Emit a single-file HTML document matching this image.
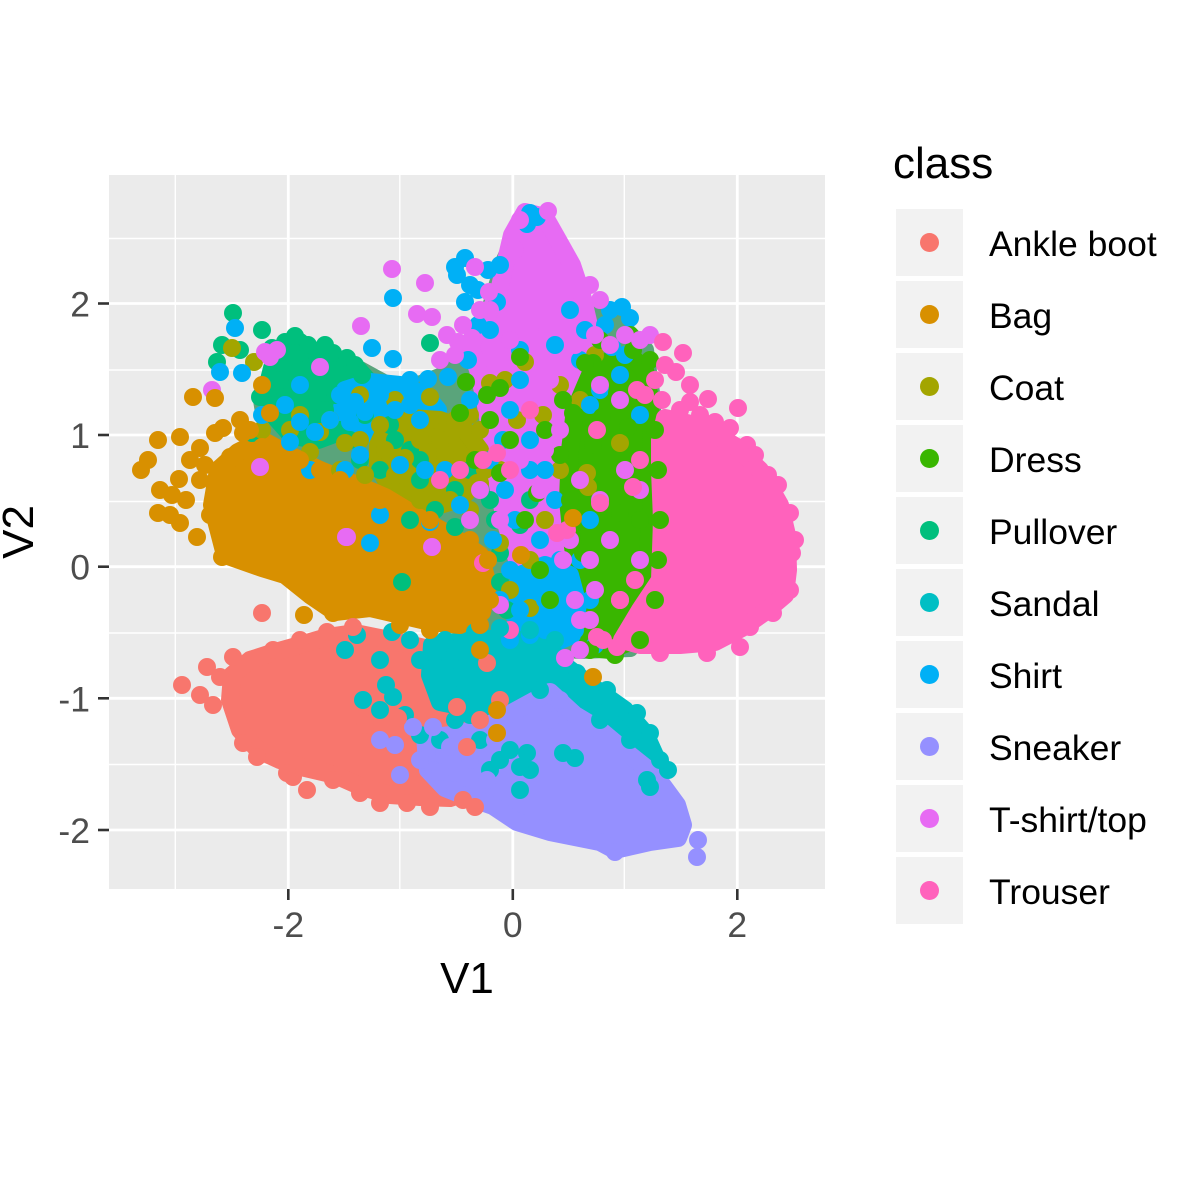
<!DOCTYPE html>
<html><head><meta charset="utf-8"><style>
html,body{margin:0;padding:0;background:#fff;}
svg{display:block;font-family:"Liberation Sans",Arial,sans-serif;}
.pg{stroke-width:18;stroke-linejoin:round;}
</style></head><body>
<svg width="1181" height="1181" viewBox="0 0 1181 1181" xmlns="http://www.w3.org/2000/svg">
<rect width="1181" height="1181" fill="#fff"/>
<!-- panel -->
<rect x="109" y="175" width="716" height="714" fill="#EBEBEB"/>
<g stroke="#fff" stroke-width="1.4">
<line x1="175.3" y1="175" x2="175.3" y2="889"/><line x1="399.8" y1="175" x2="399.8" y2="889"/><line x1="624.3" y1="175" x2="624.3" y2="889"/>
<line x1="109" y1="238.5" x2="825" y2="238.5"/><line x1="109" y1="370" x2="825" y2="370"/><line x1="109" y1="501.5" x2="825" y2="501.5"/><line x1="109" y1="633" x2="825" y2="633"/><line x1="109" y1="764.5" x2="825" y2="764.5"/>
</g>
<g stroke="#fff" stroke-width="2.8">
<line x1="288.3" y1="175" x2="288.3" y2="889"/><line x1="512.8" y1="175" x2="512.8" y2="889"/><line x1="737.3" y1="175" x2="737.3" y2="889"/>
<line x1="109" y1="303.5" x2="825" y2="303.5"/><line x1="109" y1="435" x2="825" y2="435"/><line x1="109" y1="566.7" x2="825" y2="566.7"/><line x1="109" y1="698.3" x2="825" y2="698.3"/><line x1="109" y1="830" x2="825" y2="830"/>
</g>

<!-- base polygons -->
<polygon class="pg" fill="#5aa47b" stroke="#5aa47b" points="262,400 280,365 320,358 360,370 400,392 445,375 470,345 490,310 505,260 525,215 545,218 565,262 585,305 620,325 645,350 652,400 652,620 630,648 580,650 520,645 490,625 470,560 440,540 380,520 320,490 270,450"/>
<polygon class="pg" fill="#E76BF3" stroke="#E76BF3" points="525,212 545,217 558,240 572,265 582,295 590,330 595,370 590,420 575,470 565,520 560,580 560,640 545,650 530,620 520,570 505,520 495,470 490,430 485,400 478,370 470,345 485,320 498,295 505,265 512,235"/>
<polygon class="pg" fill="#00BF7D" stroke="#00BF7D" points="272,368 295,352 330,356 355,366 372,385 368,410 345,430 318,440 292,436 276,418 266,392"/>
<polygon class="pg" fill="#00B0F6" stroke="#00B0F6" points="345,390 370,382 400,385 425,395 438,410 430,428 405,435 375,435 352,425 342,408"/>
<polygon class="pg" fill="#A3A500" stroke="#A3A500" points="385,430 410,418 440,420 465,430 480,450 478,478 462,498 440,505 410,500 390,488 378,465 378,445"/>
<polygon class="pg" fill="#39B600" stroke="#39B600" points="590,375 610,360 630,355 645,370 650,400 652,450 652,500 648,550 645,600 635,640 610,650 590,648 580,620 578,580 572,540 568,500 570,450 575,410"/>
<polygon class="pg" fill="#00B0F6" stroke="#00B0F6" points="520,575 545,565 570,575 578,605 572,635 550,645 525,640 512,610"/>
<polygon class="pg" fill="#FF62BC" stroke="#FF62BC" points="665,418 700,426 735,446 760,470 780,505 787,535 788,570 785,595 765,612 742,628 715,642 680,645 640,645 622,640 640,610 660,580 662,520 660,470 660,440"/>
<polygon class="pg" fill="#F8766D" stroke="#F8766D" points="232,675 250,660 275,652 300,645 327,637 355,633 390,640 425,648 460,655 488,668 492,700 485,740 475,790 450,798 420,797 390,795 362,787 335,775 305,768 280,760 258,750 240,730 230,700"/>
<polygon class="pg" fill="#00BFC4" stroke="#00BFC4" points="432,645 470,640 510,638 545,645 568,668 597,690 625,710 645,733 658,762 648,775 622,762 592,748 560,735 530,720 500,712 470,708 440,702 430,675"/>
<polygon class="pg" fill="#9590FF" stroke="#9590FF" points="425,738 450,735 483,728 517,710 550,692 575,715 600,730 630,755 655,775 677,805 683,825 678,838 650,842 615,850 600,842 550,832 517,822 493,806 470,798 445,788 428,770"/>
<polygon class="pg" fill="#D89000" stroke="#D89000" points="218,470 238,452 262,440 290,455 320,470 350,482 385,497 420,518 455,538 480,555 488,585 482,612 460,625 430,622 400,615 370,608 335,612 310,595 285,575 262,568 225,555 212,505"/>

<!-- dots -->
<g fill="#00BF7D">
<circle cx="233" cy="313" r="9"/><circle cx="262" cy="330" r="9"/><circle cx="222" cy="345" r="9"/><circle cx="217" cy="362" r="9"/><circle cx="300" cy="342" r="9"/><circle cx="308" cy="345" r="9"/><circle cx="317" cy="358" r="9"/><circle cx="333" cy="353" r="9"/><circle cx="347" cy="358" r="9"/><circle cx="430" cy="343" r="9"/><circle cx="260" cy="397" r="9"/><circle cx="252" cy="433" r="9"/><circle cx="240" cy="350" r="9"/><circle cx="272" cy="348" r="9"/><circle cx="285" cy="342" r="9"/><circle cx="295" cy="336" r="9"/><circle cx="325" cy="345" r="9"/><circle cx="355" cy="365" r="9"/><circle cx="362" cy="375" r="9"/><circle cx="280" cy="380" r="9"/><circle cx="300" cy="395" r="9"/><circle cx="325" cy="410" r="9"/><circle cx="340" cy="430" r="9"/><circle cx="365" cy="415" r="9"/><circle cx="390" cy="425" r="9"/><circle cx="395" cy="440" r="9"/><circle cx="410" cy="450" r="9"/><circle cx="360" cy="460" r="9"/><circle cx="380" cy="470" r="9"/><circle cx="420" cy="480" r="9"/><circle cx="440" cy="480" r="9"/><circle cx="455" cy="490" r="9"/><circle cx="470" cy="470" r="9"/><circle cx="490" cy="500" r="9"/><circle cx="495" cy="520" r="9"/><circle cx="455" cy="527" r="9"/><circle cx="435" cy="510" r="9"/><circle cx="410" cy="520" r="9"/><circle cx="402" cy="582" r="9"/><circle cx="500" cy="582" r="9"/><circle cx="507" cy="610" r="9"/><circle cx="500" cy="553" r="9"/><circle cx="520" cy="525" r="9"/><circle cx="530" cy="500" r="9"/><circle cx="420" cy="460" r="9"/><circle cx="350" cy="440" r="9"/><circle cx="310" cy="425" r="9"/><circle cx="335" cy="395" r="9"/><circle cx="275" cy="405" r="9"/><circle cx="265" cy="385" r="9"/>
</g>
<g fill="#A3A500">
<circle cx="232" cy="348" r="9"/><circle cx="254" cy="362" r="9"/><circle cx="330" cy="420" r="9"/><circle cx="380" cy="425" r="9"/><circle cx="477" cy="483" r="9"/><circle cx="525" cy="362" r="9"/><circle cx="620" cy="443" r="9"/><circle cx="587" cy="473" r="9"/><circle cx="588" cy="487" r="9"/><circle cx="480" cy="430" r="9"/><circle cx="517" cy="420" r="9"/><circle cx="543" cy="415" r="9"/><circle cx="500" cy="543" r="9"/><circle cx="480" cy="483" r="9"/><circle cx="430" cy="397" r="9"/><circle cx="490" cy="383" r="9"/><circle cx="530" cy="608" r="9"/><circle cx="300" cy="415" r="9"/><circle cx="320" cy="432" r="9"/><circle cx="345" cy="443" r="9"/><circle cx="360" cy="440" r="9"/><circle cx="310" cy="452" r="9"/><circle cx="290" cy="430" r="9"/><circle cx="395" cy="400" r="9"/><circle cx="360" cy="395" r="9"/><circle cx="262" cy="430" r="9"/><circle cx="405" cy="458" r="9"/><circle cx="420" cy="440" r="9"/><circle cx="445" cy="455" r="9"/><circle cx="395" cy="475" r="9"/><circle cx="450" cy="500" r="9"/><circle cx="470" cy="510" r="9"/><circle cx="485" cy="470" r="9"/><circle cx="440" cy="440" r="9"/><circle cx="455" cy="420" r="9"/><circle cx="500" cy="470" r="9"/><circle cx="505" cy="380" r="9"/><circle cx="560" cy="385" r="9"/><circle cx="580" cy="400" r="9"/><circle cx="560" cy="470" r="9"/><circle cx="545" cy="520" r="9"/><circle cx="510" cy="590" r="9"/><circle cx="530" cy="560" r="9"/><circle cx="595" cy="355" r="9"/><circle cx="420" cy="500" r="9"/><circle cx="430" cy="420" r="9"/><circle cx="470" cy="415" r="9"/><circle cx="385" cy="450" r="9"/><circle cx="340" cy="470" r="9"/><circle cx="365" cy="475" r="9"/>
</g>
<g fill="#00B0F6">
<circle cx="235" cy="328" r="9"/><circle cx="220" cy="372" r="9"/><circle cx="242" cy="373" r="9"/><circle cx="393" cy="298" r="9"/><circle cx="455" cy="267" r="9"/><circle cx="465" cy="258" r="9"/><circle cx="465" cy="302" r="9"/><circle cx="372" cy="348" r="9"/><circle cx="393" cy="359" r="9"/><circle cx="410" cy="380" r="9"/><circle cx="428" cy="379" r="9"/><circle cx="448" cy="377" r="9"/><circle cx="340" cy="395" r="9"/><circle cx="355" cy="402" r="9"/><circle cx="365" cy="412" r="9"/><circle cx="350" cy="422" r="9"/><circle cx="380" cy="395" r="9"/><circle cx="395" cy="410" r="9"/><circle cx="410" cy="405" r="9"/><circle cx="420" cy="420" r="9"/><circle cx="330" cy="420" r="9"/><circle cx="300" cy="422" r="9"/><circle cx="315" cy="432" r="9"/><circle cx="290" cy="442" r="9"/><circle cx="310" cy="470" r="9"/><circle cx="345" cy="470" r="9"/><circle cx="360" cy="455" r="9"/><circle cx="400" cy="465" r="9"/><circle cx="425" cy="470" r="9"/><circle cx="380" cy="515" r="9"/><circle cx="430" cy="522" r="9"/><circle cx="370" cy="543" r="9"/><circle cx="460" cy="505" r="9"/><circle cx="445" cy="470" r="9"/><circle cx="300" cy="385" r="9"/><circle cx="285" cy="405" r="9"/><circle cx="262" cy="415" r="9"/>
<circle cx="497" cy="302" r="9"/><circle cx="530" cy="213" r="9"/><circle cx="527" cy="224" r="9"/><circle cx="537" cy="217" r="9"/><circle cx="500" cy="265" r="9"/><circle cx="488" cy="270" r="9"/><circle cx="478" cy="290" r="9"/><circle cx="490" cy="330" r="9"/><circle cx="470" cy="400" r="9"/><circle cx="510" cy="410" r="9"/><circle cx="520" cy="380" r="9"/><circle cx="530" cy="440" r="9"/><circle cx="545" cy="470" r="9"/><circle cx="555" cy="500" r="9"/><circle cx="515" cy="520" r="9"/><circle cx="540" cy="540" r="9"/><circle cx="560" cy="560" r="9"/><circle cx="530" cy="590" r="9"/><circle cx="545" cy="600" r="9"/><circle cx="555" cy="620" r="9"/><circle cx="520" cy="610" r="9"/><circle cx="500" cy="600" r="9"/><circle cx="510" cy="570" r="9"/><circle cx="575" cy="630" r="9"/><circle cx="590" cy="600" r="9"/><circle cx="493" cy="540" r="9"/><circle cx="610" cy="310" r="9"/><circle cx="622" cy="307" r="9"/><circle cx="630" cy="318" r="9"/><circle cx="605" cy="325" r="9"/><circle cx="585" cy="330" r="9"/><circle cx="570" cy="310" r="9"/><circle cx="600" cy="390" r="9"/><circle cx="625" cy="355" r="9"/><circle cx="640" cy="415" r="9"/><circle cx="620" cy="375" r="9"/><circle cx="590" cy="405" r="9"/><circle cx="580" cy="360" r="9"/><circle cx="555" cy="345" r="9"/><circle cx="520" cy="350" r="9"/><circle cx="503" cy="440" r="9"/><circle cx="505" cy="490" r="9"/><circle cx="490" cy="460" r="9"/><circle cx="560" cy="590" r="9"/><circle cx="545" cy="630" r="9"/><circle cx="595" cy="645" r="9"/><circle cx="530" cy="635" r="9"/><circle cx="510" cy="640" r="9"/><circle cx="457" cy="275" r="9"/><circle cx="470" cy="285" r="9"/><circle cx="612" cy="347" r="9"/><circle cx="580" cy="560" r="9"/><circle cx="590" cy="520" r="9"/><circle cx="530" cy="470" r="9"/><circle cx="478" cy="325" r="9"/><circle cx="468" cy="360" r="9"/>
</g>
<g fill="#39B600">
<circle cx="520" cy="357" r="9"/><circle cx="563" cy="400" r="9"/><circle cx="573" cy="413" r="9"/><circle cx="602" cy="417" r="9"/><circle cx="593" cy="445" r="9"/><circle cx="537" cy="493" r="9"/><circle cx="500" cy="473" r="9"/><circle cx="487" cy="395" r="9"/><circle cx="460" cy="413" r="9"/><circle cx="628" cy="427" r="9"/><circle cx="617" cy="393" r="9"/><circle cx="593" cy="363" r="9"/><circle cx="633" cy="350" r="9"/><circle cx="585" cy="363" r="9"/><circle cx="620" cy="513" r="9"/><circle cx="640" cy="520" r="9"/><circle cx="583" cy="553" r="9"/><circle cx="500" cy="388" r="9"/><circle cx="490" cy="420" r="9"/><circle cx="475" cy="460" r="9"/><circle cx="466" cy="382" r="9"/><circle cx="510" cy="440" r="9"/><circle cx="545" cy="430" r="9"/><circle cx="560" cy="455" r="9"/><circle cx="540" cy="570" r="9"/><circle cx="550" cy="600" r="9"/><circle cx="590" cy="650" r="9"/><circle cx="615" cy="655" r="9"/><circle cx="640" cy="640" r="9"/><circle cx="600" cy="340" r="9"/><circle cx="630" cy="335" r="9"/><circle cx="650" cy="360" r="9"/><circle cx="655" cy="600" r="9"/><circle cx="658" cy="560" r="9"/><circle cx="660" cy="520" r="9"/><circle cx="658" cy="470" r="9"/><circle cx="655" cy="430" r="9"/><circle cx="570" cy="500" r="9"/><circle cx="525" cy="520" r="9"/>
</g>
<g fill="#E76BF3">
<circle cx="392" cy="269" r="9"/><circle cx="425" cy="283" r="9"/><circle cx="417" cy="314" r="9"/><circle cx="432" cy="317" r="9"/><circle cx="361" cy="326" r="9"/><circle cx="320" cy="367" r="9"/><circle cx="212" cy="390" r="9"/><circle cx="260" cy="467" r="9"/><circle cx="347" cy="537" r="9"/><circle cx="277" cy="350" r="9"/><circle cx="475" cy="267" r="9"/><circle cx="489" cy="292" r="9"/><circle cx="480" cy="310" r="9"/><circle cx="455" cy="355" r="9"/><circle cx="440" cy="360" r="9"/><circle cx="447" cy="335" r="9"/><circle cx="463" cy="325" r="9"/><circle cx="265" cy="352" r="9"/><circle cx="520" cy="220" r="9"/><circle cx="548" cy="211" r="9"/><circle cx="515" cy="250" r="9"/><circle cx="595" cy="335" r="9"/><circle cx="610" cy="345" r="9"/><circle cx="625" cy="335" r="9"/><circle cx="640" cy="340" r="9"/><circle cx="650" cy="335" r="9"/><circle cx="600" cy="300" r="9"/><circle cx="590" cy="285" r="9"/><circle cx="600" cy="385" r="9"/><circle cx="620" cy="400" r="9"/><circle cx="560" cy="430" r="9"/><circle cx="580" cy="480" r="9"/><circle cx="600" cy="500" r="9"/><circle cx="610" cy="540" r="9"/><circle cx="590" cy="560" r="9"/><circle cx="595" cy="590" r="9"/><circle cx="620" cy="600" r="9"/><circle cx="570" cy="540" r="9"/><circle cx="540" cy="490" r="9"/><circle cx="520" cy="460" r="9"/><circle cx="545" cy="450" r="9"/><circle cx="480" cy="490" r="9"/><circle cx="470" cy="520" r="9"/><circle cx="500" cy="520" r="9"/><circle cx="590" cy="620" r="9"/><circle cx="580" cy="650" r="9"/><circle cx="565" cy="658" r="9"/><circle cx="575" cy="600" r="9"/><circle cx="640" cy="560" r="9"/><circle cx="640" cy="490" r="9"/><circle cx="625" cy="470" r="9"/><circle cx="500" cy="605" r="9"/><circle cx="432" cy="547" r="9"/><circle cx="563" cy="560" r="9"/><circle cx="580" cy="620" r="9"/><circle cx="270" cy="357" r="9"/><circle cx="510" cy="340" r="9"/><circle cx="530" cy="330" r="9"/><circle cx="550" cy="380" r="9"/><circle cx="525" cy="400" r="9"/><circle cx="575" cy="345" r="9"/><circle cx="458" cy="342" r="9"/><circle cx="472" cy="338" r="9"/><circle cx="490" cy="310" r="9"/>
</g>
<g fill="#FF62BC">
<circle cx="663" cy="342" r="9"/><circle cx="683" cy="353" r="9"/><circle cx="708" cy="399" r="9"/><circle cx="738" cy="408" r="9"/><circle cx="747" cy="445" r="9"/><circle cx="768" cy="475" r="9"/><circle cx="778" cy="485" r="9"/><circle cx="790" cy="513" r="9"/><circle cx="792" cy="553" r="9"/><circle cx="790" cy="590" r="9"/><circle cx="773" cy="613" r="9"/><circle cx="676" cy="372" r="9"/><circle cx="690" cy="385" r="9"/><circle cx="665" cy="365" r="9"/><circle cx="680" cy="410" r="9"/><circle cx="720" cy="430" r="9"/><circle cx="700" cy="415" r="9"/><circle cx="715" cy="422" r="9"/><circle cx="730" cy="428" r="9"/><circle cx="655" cy="380" r="9"/><circle cx="645" cy="395" r="9"/><circle cx="662" cy="400" r="9"/><circle cx="690" cy="402" r="9"/><circle cx="755" cy="455" r="9"/><circle cx="497" cy="453" r="9"/><circle cx="483" cy="460" r="9"/><circle cx="597" cy="430" r="9"/><circle cx="637" cy="390" r="9"/><circle cx="600" cy="503" r="9"/><circle cx="633" cy="487" r="9"/><circle cx="567" cy="530" r="9"/><circle cx="483" cy="563" r="9"/><circle cx="557" cy="533" r="9"/><circle cx="597" cy="637" r="9"/><circle cx="603" cy="640" r="9"/><circle cx="750" cy="627" r="9"/><circle cx="740" cy="647" r="9"/><circle cx="707" cy="653" r="9"/><circle cx="660" cy="653" r="9"/><circle cx="617" cy="647" r="9"/><circle cx="620" cy="600" r="9"/><circle cx="635" cy="580" r="9"/><circle cx="510" cy="470" r="9"/><circle cx="530" cy="410" r="9"/><circle cx="460" cy="470" r="9"/><circle cx="510" cy="630" r="9"/><circle cx="440" cy="480" r="9"/><circle cx="640" cy="460" r="9"/><circle cx="795" cy="540" r="9"/>
</g>
<g fill="#00BFC4">
<circle cx="392" cy="632" r="9"/><circle cx="393" cy="697" r="9"/><circle cx="420" cy="660" r="9"/><circle cx="363" cy="700" r="9"/><circle cx="386" cy="685" r="9"/><circle cx="357" cy="635" r="9"/><circle cx="410" cy="640" r="9"/><circle cx="440" cy="700" r="9"/><circle cx="455" cy="720" r="9"/><circle cx="470" cy="715" r="9"/><circle cx="480" cy="740" r="9"/><circle cx="500" cy="760" r="9"/><circle cx="510" cy="750" r="9"/><circle cx="530" cy="770" r="9"/><circle cx="490" cy="770" r="9"/><circle cx="520" cy="790" r="9"/><circle cx="440" cy="740" r="9"/><circle cx="575" cy="758" r="9"/><circle cx="563" cy="753" r="9"/><circle cx="520" cy="767" r="9"/><circle cx="527" cy="753" r="9"/><circle cx="650" cy="787" r="9"/><circle cx="647" cy="780" r="9"/><circle cx="668" cy="770" r="9"/><circle cx="660" cy="760" r="9"/><circle cx="650" cy="733" r="9"/><circle cx="637" cy="713" r="9"/><circle cx="607" cy="690" r="9"/><circle cx="577" cy="673" r="9"/><circle cx="445" cy="640" r="9"/><circle cx="475" cy="632" r="9"/><circle cx="500" cy="628" r="9"/><circle cx="530" cy="630" r="9"/><circle cx="555" cy="640" r="9"/><circle cx="345" cy="650" r="9"/><circle cx="380" cy="710" r="9"/><circle cx="405" cy="715" r="9"/><circle cx="420" cy="735" r="9"/><circle cx="460" cy="695" r="9"/><circle cx="540" cy="690" r="9"/><circle cx="600" cy="720" r="9"/><circle cx="630" cy="740" r="9"/><circle cx="480" cy="650" r="9"/><circle cx="380" cy="660" r="9"/><circle cx="450" cy="660" r="9"/>
</g>
<g fill="#9590FF">
<circle cx="413" cy="727" r="9"/><circle cx="450" cy="747" r="9"/><circle cx="433" cy="770" r="9"/><circle cx="380" cy="740" r="9"/><circle cx="487" cy="780" r="9"/><circle cx="433" cy="727" r="9"/><circle cx="395" cy="745" r="9"/><circle cx="420" cy="760" r="9"/><circle cx="440" cy="772" r="9"/><circle cx="455" cy="790" r="9"/><circle cx="400" cy="775" r="9"/><circle cx="698" cy="840" r="9"/><circle cx="697" cy="857" r="9"/><circle cx="615" cy="852" r="9"/><circle cx="560" cy="700" r="9"/><circle cx="550" cy="720" r="9"/><circle cx="495" cy="740" r="9"/><circle cx="470" cy="760" r="9"/>
</g>
<g fill="#F8766D">
<circle cx="182" cy="685" r="9"/><circle cx="207" cy="667" r="9"/><circle cx="200" cy="695" r="9"/><circle cx="213" cy="705" r="9"/><circle cx="262" cy="613" r="9"/><circle cx="243" cy="743" r="9"/><circle cx="307" cy="790" r="9"/><circle cx="293" cy="777" r="9"/><circle cx="487" cy="663" r="9"/><circle cx="457" cy="707" r="9"/><circle cx="467" cy="747" r="9"/><circle cx="463" cy="800" r="9"/><circle cx="475" cy="807" r="9"/><circle cx="430" cy="807" r="9"/><circle cx="407" cy="803" r="9"/><circle cx="380" cy="803" r="9"/><circle cx="360" cy="793" r="9"/><circle cx="333" cy="780" r="9"/><circle cx="287" cy="773" r="9"/><circle cx="257" cy="757" r="9"/><circle cx="220" cy="677" r="9"/><circle cx="233" cy="657" r="9"/><circle cx="273" cy="650" r="9"/><circle cx="300" cy="640" r="9"/><circle cx="327" cy="632" r="9"/><circle cx="353" cy="627" r="9"/><circle cx="500" cy="700" r="9"/><circle cx="398" cy="718" r="9"/><circle cx="480" cy="720" r="9"/><circle cx="415" cy="785" r="9"/><circle cx="365" cy="725" r="9"/>
</g>
<g fill="#D89000">
<circle cx="141" cy="470" r="9"/><circle cx="148" cy="460" r="9"/><circle cx="158" cy="440" r="9"/><circle cx="180" cy="437" r="9"/><circle cx="193" cy="397" r="9"/><circle cx="215" cy="398" r="9"/><circle cx="200" cy="448" r="9"/><circle cx="215" cy="433" r="9"/><circle cx="223" cy="428" r="9"/><circle cx="243" cy="433" r="9"/><circle cx="262" cy="447" r="9"/><circle cx="179" cy="479" r="9"/><circle cx="158" cy="513" r="9"/><circle cx="170" cy="515" r="9"/><circle cx="180" cy="523" r="9"/><circle cx="197" cy="537" r="9"/><circle cx="222" cy="557" r="9"/><circle cx="230" cy="457" r="9"/><circle cx="262" cy="385" r="9"/><circle cx="186" cy="500" r="9"/><circle cx="200" cy="480" r="9"/><circle cx="205" cy="465" r="9"/><circle cx="190" cy="460" r="9"/><circle cx="172" cy="495" r="9"/><circle cx="160" cy="490" r="9"/><circle cx="210" cy="515" r="9"/><circle cx="240" cy="420" r="9"/><circle cx="250" cy="430" r="9"/><circle cx="304" cy="615" r="9"/><circle cx="497" cy="710" r="9"/><circle cx="497" cy="733" r="9"/><circle cx="593" cy="677" r="9"/><circle cx="521" cy="555" r="9"/><circle cx="573" cy="518" r="9"/><circle cx="480" cy="650" r="9"/><circle cx="270" cy="413" r="9"/><circle cx="333" cy="613" r="9"/><circle cx="367" cy="607" r="9"/><circle cx="260" cy="567" r="9"/><circle cx="280" cy="573" r="9"/><circle cx="230" cy="480" r="9"/><circle cx="235" cy="500" r="9"/><circle cx="300" cy="460" r="9"/><circle cx="320" cy="470" r="9"/><circle cx="340" cy="480" r="9"/><circle cx="380" cy="500" r="9"/><circle cx="430" cy="520" r="9"/><circle cx="470" cy="540" r="9"/><circle cx="488" cy="560" r="9"/><circle cx="490" cy="600" r="9"/><circle cx="480" cy="625" r="9"/><circle cx="430" cy="630" r="9"/><circle cx="400" cy="625" r="9"/><circle cx="455" cy="560" r="9"/><circle cx="465" cy="590" r="9"/>
</g>
<g fill="#E76BF3"><circle cx="346" cy="537" r="9"/></g>

<!-- axes ticks -->
<g stroke="#333" stroke-width="2.6">
<line x1="98" y1="303.5" x2="109" y2="303.5"/><line x1="98" y1="435" x2="109" y2="435"/><line x1="98" y1="566.7" x2="109" y2="566.7"/><line x1="98" y1="698.3" x2="109" y2="698.3"/><line x1="98" y1="830" x2="109" y2="830"/>
<line x1="288.3" y1="889" x2="288.3" y2="900"/><line x1="512.8" y1="889" x2="512.8" y2="900"/><line x1="737.3" y1="889" x2="737.3" y2="900"/>
</g>
<g fill="#4D4D4D" font-size="35.5">
<text x="90" y="316.5" text-anchor="end">2</text>
<text x="90" y="448" text-anchor="end">1</text>
<text x="90" y="579.7" text-anchor="end">0</text>
<text x="90" y="711.3" text-anchor="end">-1</text>
<text x="90" y="843" text-anchor="end">-2</text>
<text x="288.3" y="937" text-anchor="middle">-2</text>
<text x="512.8" y="937" text-anchor="middle">0</text>
<text x="737.3" y="937" text-anchor="middle">2</text>
</g>
<text x="467" y="993" text-anchor="middle" font-size="44" fill="#000">V1</text>
<text transform="translate(33,532) rotate(-90)" text-anchor="middle" font-size="44" fill="#000">V2</text>

<!-- legend -->
<text x="893" y="178" font-size="44" fill="#000">class</text>
<g fill="#F2F2F2">
<rect x="896" y="209" width="67" height="67"/><rect x="896" y="281" width="67" height="67"/><rect x="896" y="353" width="67" height="67"/><rect x="896" y="425" width="67" height="67"/><rect x="896" y="497" width="67" height="67"/><rect x="896" y="569" width="67" height="67"/><rect x="896" y="641" width="67" height="67"/><rect x="896" y="713" width="67" height="67"/><rect x="896" y="785" width="67" height="67"/><rect x="896" y="857" width="67" height="67"/>
</g>
<circle cx="929.5" cy="242.5" r="9.5" fill="#F8766D"/>
<circle cx="929.5" cy="314.5" r="9.5" fill="#D89000"/>
<circle cx="929.5" cy="386.5" r="9.5" fill="#A3A500"/>
<circle cx="929.5" cy="458.5" r="9.5" fill="#39B600"/>
<circle cx="929.5" cy="530.5" r="9.5" fill="#00BF7D"/>
<circle cx="929.5" cy="602.5" r="9.5" fill="#00BFC4"/>
<circle cx="929.5" cy="674.5" r="9.5" fill="#00B0F6"/>
<circle cx="929.5" cy="746.5" r="9.5" fill="#9590FF"/>
<circle cx="929.5" cy="818.5" r="9.5" fill="#E76BF3"/>
<circle cx="929.5" cy="890.5" r="9.5" fill="#FF62BC"/>
<g font-size="35.5" fill="#000">
<text x="989" y="256">Ankle boot</text>
<text x="989" y="328">Bag</text>
<text x="989" y="400">Coat</text>
<text x="989" y="472">Dress</text>
<text x="989" y="544">Pullover</text>
<text x="989" y="616">Sandal</text>
<text x="989" y="688">Shirt</text>
<text x="989" y="760">Sneaker</text>
<text x="989" y="832">T-shirt/top</text>
<text x="989" y="904">Trouser</text>
</g>
</svg>
</body></html>
